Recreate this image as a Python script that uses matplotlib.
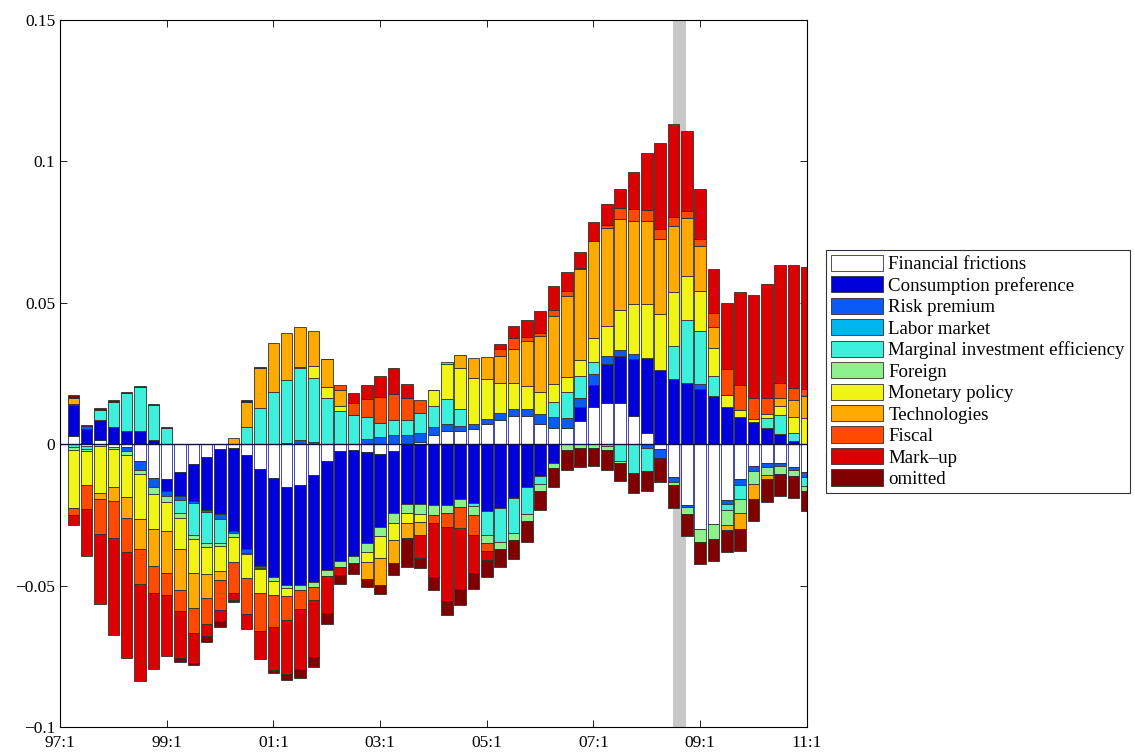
import matplotlib
matplotlib.use("Agg")
import matplotlib.pyplot as plt
import numpy as np

plt.rcParams["font.family"] = ["Liberation Serif", "DejaVu Serif"]

# === Data: contributions per quarter, 97:2 .. 11:1 ===
labels = ["Financial frictions", "Consumption preference", "Risk premium", "Labor market",
          "Marginal investment efficiency", "Foreign", "Monetary policy", "Technologies",
          "Fiscal", "Mark\u2013up", "omitted"]
colors = ["#FFFFFF", "#0000DC", "#0A5AF5", "#00B4F0", "#3CF0DC", "#8CF08C",
          "#F0F514", "#FFAA00", "#FF4A00", "#DC0000", "#800000"]

tick_labels = ["97:1", "99:1", "01:1", "03:1", "05:1", "07:1", "09:1", "11:1"]

fin_frictions = [.003, -.0006, .0015, -.0009, -.0009, -.0059, -.0121, -.0124, -.0098, -.0071,
                 -.0045, -.0018, -.0012, -.0039, -.0086, -.0121, -.015, -.0145, -.011, -.006,
                 -.0024, -.0021, -.0027, -.0035, -.0024, 0, .0009, .0032, .0047, .0047,
                 .0055, .0071, .0085, .01, .01, .0073, .0059, .0059, .0083, .013,
                 .0147, .0144, .01, .0041, -.0018, -.0115, -.0215, -.0301, -.0283, -.0198,
                 -.0124, -.0077, -.0065, -.0065, -.0079, -.0098]
cons_pref = [.0108, .0055, .0071, .006, .0047, .0047, .0015, -.0041, -.0085, -.013,
             -.0187, -.023, -.0295, -.0332, -.0344, -.035, -.0349, -.0354, -.0377, -.0383,
             -.0389, -.0375, -.0324, -.0257, -.0219, -.0211, -.0212, -.0215, -.0215, -.0194,
             -.0209, -.0236, -.0226, -.019, -.0152, -.0114, -.0065, 0, .0047, .008,
             .0135, .0169, .02, .0263, .0262, .023, .0218, .0194, .0171, .013,
             .0097, .0077, .0057, .0035, .0012, 0]
risk_prem = [.0005, .0008, 0, 0, -.0014, -.0032, -.0032, -.0018, -.0014, -.0008,
             -.0007, -.0018, -.0008, -.0012, -.0006, 0, .0005, .0015, .0009, 0,
             0, 0, .0018, .0027, .0033, .0033, .0032, .0029, .0024, .0018,
             .0018, .0018, .0026, .0024, .0024, .0033, .0038, .0035, .0035, .0038,
             .003, .002, .002, -.0015, -.003, -.0018, -.0006, .002, 0, -.0014,
             -.0021, -.0018, -.0014, -.0012, -.0012, -.0018]
labor = [0] * 56
mie = [-.001, -.0012, .0035, .0091, .0133, .0154, .0123, .0056, -.0045, -.0113,
       -.0111, -.0083, 0, .0062, .0127, .0184, .0222, .0253, .0226, .0163,
       .0118, .0104, .008, .0047, .0051, .0051, .0068, .0073, .0088, .0059,
       -.0009, -.0085, -.0118, -.0124, -.0094, -.0027, .0051, .0092, .0077, .0041,
       -.0008, -.0059, -.0103, -.0078, 0, .0118, .022, .0186, .0071, -.0021,
       -.005, 0, .0035, .0068, .0026, -.003]
foreign = [-.001, -.0006, -.0006, -.0008, -.0015, -.0015, -.0024, -.0021, -.0018, -.0014,
           -.0012, -.0012, -.0012, -.0006, -.0006, -.0012, -.0008, -.0017, -.0018, -.0022,
           -.0021, -.0024, -.0029, -.0033, -.0035, -.0031, -.0033, -.0035, -.0029, -.0029,
           -.0033, -.0029, -.0027, -.0026, -.0027, -.0026, -.0018, -.002, -.0012, -.0012,
           -.0012, -.0006, 0, 0, 0, -.0012, -.0026, -.0045, -.0051, -.0051,
           -.0047, -.0047, -.0031, -.0029, -.0021, -.0018]
monetary = [-.0204, -.012, -.0165, -.0136, -.015, -.0159, -.0124, -.0103, -.011, -.0118,
            -.0098, -.0088, -.009, -.0083, -.0083, -.0051, -.003, .0006, .0042, .0039,
            .0018, 0, -.0035, -.0079, -.0061, -.0035, -.003, .0059, .0124, .0147,
            .016, .0141, .0107, .0091, .0083, .0077, .0065, .0052, .0055, .0088,
            .0106, .0141, .0177, .0193, .0198, .0189, .0157, .0141, .0098, .0045,
            .0024, .0012, .0014, .0032, .0057, .0094]
technologies = [.0022, 0, -.0024, -.0047, -.0074, -.0106, -.013, -.0147, -.0144, -.0126,
                -.0083, -.0032, .0022, .0088, .0141, .0173, .0165, .0141, .0124, .01,
                .0054, 0, -.0062, -.0094, -.0082, -.0055, -.0045, 0, .0006, .0045,
                .0071, .0077, .0094, .0121, .0157, .02, .0242, .0286, .0321, .034,
                .0348, .0322, .0292, .0292, .0265, .0236, .0206, .0159, .0073, -.0018,
                -.0057, -.0051, -.0014, .0027, .0061, .0077]
fiscal = [-.0028, -.0086, -.0121, -.013, -.012, -.0124, -.0094, -.008, -.0077, -.0088,
          -.0094, -.0106, -.0108, -.013, -.0136, -.0114, -.0085, -.0068, -.0047, 0,
          .002, .0041, .0061, .0092, .0094, .0079, .0049, -.0027, -.0047, -.0072,
          -.0071, -.0026, .0024, .0039, .0014, .0012, .0018, .0018, .0006, 0,
          .0009, .0041, .0041, .0039, .0035, .0029, .0024, .0027, .005, .0091,
          .009, .0074, .0059, .0055, .0042, .0024]
markup = [-.0033, -.0164, -.025, -.0346, -.0375, -.0342, -.0269, -.0214, -.0165, -.0104,
          -.0041, -.0039, -.0026, -.0051, -.01, -.015, -.0192, -.0212, -.02, -.0131,
          -.003, .0035, .0051, .0075, .0093, .0051, -.0082, -.0191, -.0265, -.0218,
          -.0132, -.0033, .002, .0044, .0061, .0077, .0086, .0068, .0055, .0067,
          .0073, .0067, .0133, .0203, .0304, .0332, .0281, .0177, .0157, .0232,
          .0326, .0365, .0401, .0418, .0436, .043]
omitted = [.0008, .0004, .0008, .0005, .0005, .0006, .0004, .0004, -.0015, -.0008,
           -.002, -.002, -.0007, .0006, .0006, -.0012, -.0018, -.0029, -.0035, -.0038,
           -.0032, -.004, -.0028, -.0032, -.0041, -.0102, -.0035, -.0047, -.0047, -.0057,
           -.0057, -.0061, -.0064, -.0066, -.0071, -.0067, -.0067, -.0071, -.0067, -.0065,
           -.0071, -.0065, -.0068, -.0071, -.0085, -.0079, -.0079, -.0079, -.0079, -.0079,
           -.0079, -.0079, -.008, -.0077, -.0079, -.0071]

series = [fin_frictions, cons_pref, risk_prem, labor, mie, foreign, monetary,
          technologies, fiscal, markup, omitted]

x = np.arange(1, len(fin_frictions) + 1)

fig = plt.figure(figsize=(11.35, 7.52), dpi=100)
ax = fig.add_axes([0.0529, 0.0332, 0.658, 0.9402])

# crisis shading
ax.axvspan(45.95, 46.9, color="#C8C8C8", zorder=0, lw=0)

# positive parts stack upward, negative parts downward
pos = np.zeros(len(x))
neg = np.zeros(len(x))
handles = []
for i, (vals, col) in enumerate(zip(series, colors)):
    v = np.array(vals, dtype=float)
    bottom = np.where(v >= 0, pos, neg)
    edge = "#2828A0" if i == 0 else "#303030"
    b = ax.bar(x, v, width=0.86, bottom=bottom, color=col, edgecolor=edge,
               linewidth=0.6, zorder=2)
    handles.append(b)
    pos = pos + np.where(v > 0, v, 0)
    neg = neg + np.where(v < 0, v, 0)

ax.axhline(0, color="#101040", lw=1.0, zorder=3)

ax.set_xlim(0, 56)
ax.set_ylim(-0.1, 0.15)
ax.set_xticks(np.arange(0, 57, 8))
ax.set_xticklabels(tick_labels)
ax.set_yticks([-0.1, -0.05, 0, 0.05, 0.1, 0.15])
ax.set_yticklabels(["\u22120.1", "\u22120.05", "0", "0.05", "0.1", "0.15"])
ax.tick_params(direction="in", length=5, width=0.6, top=True, right=True, labelsize=12.5)
ax.tick_params(axis="x", pad=6)
for s in ax.spines.values():
    s.set_linewidth(0.8)

leg = fig.legend(handles, labels, loc="upper left", bbox_to_anchor=(0.7278, 0.6676),
                 frameon=True, fancybox=False, edgecolor="black", fontsize=13.6,
                 handlelength=2.75, handleheight=0.95, labelspacing=0.15,
                 borderpad=0.25, handletextpad=0.3, borderaxespad=0)
leg.get_frame().set_linewidth(0.8)

fig.savefig("out.png", dpi=100, facecolor="white")
